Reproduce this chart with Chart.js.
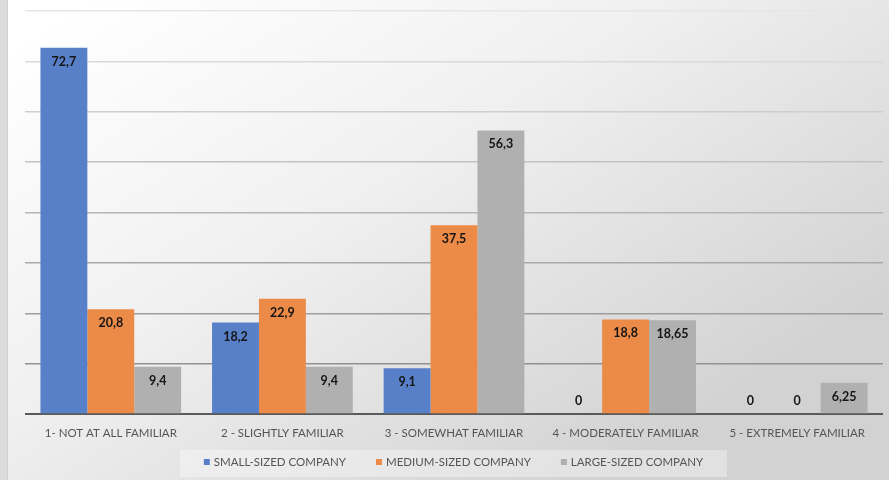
<!DOCTYPE html>
<html>
<head>
<meta charset="utf-8">
<style>
  html, body { margin: 0; padding: 0; background: #ffffff; }
  #wrap { width: 889px; height: 480px; position: relative; }
</style>
<script src="https://cdn.jsdelivr.net/npm/chart.js@4.4.1/dist/chart.umd.min.js"></script>
</head>
<body>
<div id="wrap"><canvas id="familiarChart" width="889" height="480"></canvas></div>
<script>
// Familiarity levels (x categories)
const categories = ['1- NOT AT ALL FAMILIAR', '2 - SLIGHTLY FAMILIAR', '3 - SOMEWHAT FAMILIAR', '4 - MODERATELY FAMILIAR', '5 - EXTREMELY FAMILIAR'];

// Percentages per company size
const smallCompany = [72.7, 18.2, 9.1, 0, 0];
const mediumCompany = [20.8, 22.9, 37.5, 18.8, 0];
const largeCompany = [9.4, 9.4, 56.3, 18.65, 6.25];

// Text shown on the bars (decimal comma as in the original)
const smallLabels = ['72,7', '18,2', '9,1', '0', '0'];
const mediumLabels = ['20,8', '22,9', '37,5', '18,8', '0'];
const largeLabels = ['9,4', '9,4', '56,3', '18,65', '6,25'];

const FONT = 'Lato, "Open Sans", sans-serif';

// Background gradient panel + legend (drawn under the bars)
const backgroundPlugin = {
    id: 'panelBackground',
    beforeDraw(chart) {
        const { ctx, width, height } = chart;
        ctx.save();
        const grad = ctx.createLinearGradient(150, -40, 520, 540);
        grad.addColorStop(0, '#ffffff');
        grad.addColorStop(0.45, '#f0f0f0');
        grad.addColorStop(1, '#d2d2d2');
        ctx.fillStyle = grad;
        ctx.fillRect(0, 0, width, height);
        // left strip
        ctx.fillStyle = '#dcdcdc';
        ctx.fillRect(0, 0, 8, height);
        ctx.fillStyle = '#cfcfcf';
        ctx.fillRect(7, 0, 1, height);
        // legend box
        ctx.fillStyle = 'rgba(255,255,255,0.35)';
        ctx.fillRect(180, 450, 547, 27);

        // legend entries
        ctx.font = '11.5px ' + FONT;
        ctx.textBaseline = 'middle';
        ctx.textAlign = 'left';
        const items = chart.data.datasets.map(ds => ({
            text: ds.label,
            color: ds.backgroundColor,
            w: 10 + ctx.measureText(ds.label).width
        }));
        const gap = 30;
        const total = items.reduce((s, it) => s + it.w, 0) + gap * (items.length - 1);
        let x = 453.5 - total / 2;
        const y = 462;
        items.forEach(it => {
            ctx.fillStyle = it.color;
            ctx.fillRect(x, y - 3, 6, 6);
            ctx.fillStyle = '#555555';
            ctx.fillText(it.text, x + 10, y + 0.5);
            x += it.w + gap;
        });
        ctx.restore();
    }
};

// Value labels inside the top of each bar
const valueLabelPlugin = {
    id: 'valueLabels',
    afterDatasetsDraw(chart) {
        const { ctx } = chart;
        const labelSets = [smallLabels, mediumLabels, largeLabels];
        ctx.save();
        ctx.font = 'bold 12.5px ' + FONT;
        ctx.fillStyle = '#151515';
        ctx.textAlign = 'center';
        ctx.textBaseline = 'middle';
        chart.data.datasets.forEach((ds, i) => {
            const meta = chart.getDatasetMeta(i);
            meta.data.forEach((bar, j) => {
                const y = ds.data[j] === 0 ? bar.base - 13 : bar.y + 14;
                ctx.fillText(labelSets[i][j], bar.x, y);
            });
        });
        ctx.restore();
    }
};

function gridColor(ctx) {
    const v = ctx.tick ? ctx.tick.value : 0;
    if (v === 0) return '#5a5a5a';
    const t = (80 - v) / 70;
    const c = Math.round(230 - t * 85);
    return `rgb(${c},${c},${c})`;
}

const ctx = document.getElementById('familiarChart').getContext('2d');
new Chart(ctx, {
    type: 'bar',
    data: {
        labels: categories,
        datasets: [{
            label: 'SMALL-SIZED COMPANY',
            data: smallCompany,
            backgroundColor: '#5880c9',
            borderWidth: 0
        }, {
            label: 'MEDIUM-SIZED COMPANY',
            data: mediumCompany,
            backgroundColor: '#ec8a48',
            borderWidth: 0
        }, {
            label: 'LARGE-SIZED COMPANY',
            data: largeCompany,
            backgroundColor: '#b0b0b0',
            borderWidth: 0
        }]
    },
    options: {
        responsive: false,
        animation: false,
        layout: {
            padding: { left: 25, right: 6, top: 11, bottom: 28 }
        },
        datasets: {
            bar: {
                categoryPercentage: 0.82,
                barPercentage: 1.0
            }
        },
        scales: {
            x: {
                grid: { display: false, drawTicks: false },
                border: { display: false },
                ticks: {
                    color: '#555555',
                    font: { family: FONT, size: 11.5 },
                    padding: 12,
                    maxRotation: 0
                }
            },
            y: {
                min: 0,
                max: 80,
                ticks: { display: false, stepSize: 10 },
                border: { display: false },
                grid: {
                    color: gridColor,
                    lineWidth: ctx => (ctx.tick && ctx.tick.value === 0 ? 2 : 1.6),
                    drawTicks: false
                }
            }
        },
        plugins: {
            legend: { display: false },
            tooltip: { enabled: false }
        }
    },
    plugins: [backgroundPlugin, valueLabelPlugin]
});
</script>
</body>
</html>
